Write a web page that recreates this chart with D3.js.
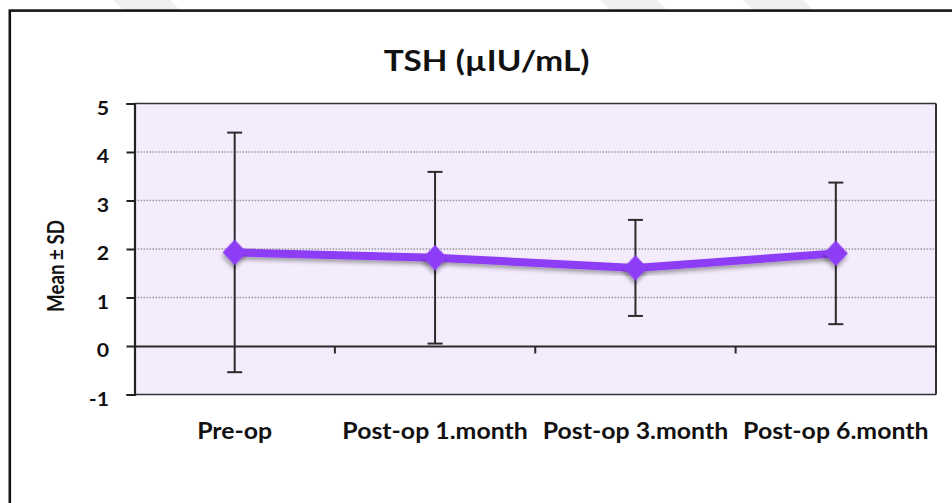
<!DOCTYPE html>
<html>
<head>
<meta charset="utf-8">
<script src="https://cdn.jsdelivr.net/npm/d3@7"></script>
<style>
  html, body { margin: 0; padding: 0; background: #fff; }
  svg { display: block; }
  text { font-family: Lato, "Open Sans", sans-serif; font-weight: bold; fill: #111; }
</style>
</head>
<body>
<svg id="chart" width="952" height="503"></svg>
<script>
// TSH follow-up: mean ± SD at each visit
const categories = ["Pre-op", "Post-op 1.month", "Post-op 3.month", "Post-op 6.month"];
const means = [1.93, 1.82, 1.61, 1.91];
const sds = [2.47, 1.77, 0.99, 1.46];
const yTicks = [-1, 0, 1, 2, 3, 4, 5];
const gridValues = [1, 2, 3, 4];
const title = "TSH (µIU/mL)";
const yTitle = "Mean ± SD";

const W = 952, H = 503;
const plot = { left: 134.5, right: 936, top: 103.5, bottom: 394.5 };

const svg = d3.select("#chart");

const defs = svg.append("defs");
const shadow = defs.append("filter").attr("id", "markerShadow")
  .attr("x", "-50%").attr("y", "-50%").attr("width", "200%").attr("height", "200%");
shadow.append("feDropShadow")
  .attr("dx", 2).attr("dy", 3).attr("stdDeviation", 2.2)
  .attr("flood-color", "#000").attr("flood-opacity", 0.35);

// faint diagonal bands along the top edge
const bands = [[113, 170], [600, 657], [743, 803]];
svg.append("g").selectAll("path").data(bands).join("path")
  .attr("d", d => `M${d[0]},0 L${d[1]},0 L${d[1] + 10},10 L${d[0] + 10},10 Z`)
  .attr("fill", "#f0f0f0");

// outer frame
svg.append("rect")
  .attr("x", 9.8).attr("y", 10.6).attr("width", W + 20).attr("height", H + 20)
  .attr("fill", "#fff").attr("stroke", "#151515").attr("stroke-width", 2.6);

const x = d3.scaleBand().domain(categories).range([plot.left, plot.right]);
const y = d3.scaleLinear().domain([-1, 5]).range([plot.bottom, plot.top]);

// plot background
svg.append("rect")
  .attr("x", plot.left).attr("y", y(5))
  .attr("width", plot.right - plot.left).attr("height", y(-1) - y(5))
  .attr("fill", "#F4ECFD");

// dotted gridlines
svg.append("g").selectAll("line").data(gridValues).join("line")
  .attr("x1", plot.left).attr("x2", plot.right)
  .attr("y1", d => y(d)).attr("y2", d => y(d))
  .attr("stroke", "#9c9c9c").attr("stroke-width", 1.5)
  .attr("stroke-dasharray", "1.6,1.4");

// plot frame: top, right, bottom
svg.append("line").attr("x1", plot.left).attr("x2", plot.right)
  .attr("y1", y(5)).attr("y2", y(5))
  .attr("stroke", "#333").attr("stroke-width", 1.6);
svg.append("line").attr("x1", plot.left).attr("x2", plot.right)
  .attr("y1", y(-1)).attr("y2", y(-1))
  .attr("stroke", "#333").attr("stroke-width", 1.6);
svg.append("line").attr("x1", plot.right).attr("x2", plot.right)
  .attr("y1", y(5)).attr("y2", y(-1))
  .attr("stroke", "#333").attr("stroke-width", 2);

// y axis
const yAxis = svg.append("g")
  .attr("transform", `translate(${plot.left},0)`)
  .call(d3.axisLeft(y).tickValues(yTicks).tickSize(8).tickPadding(0).tickFormat(d => String(d)));
yAxis.select(".domain").attr("stroke", "#222").attr("stroke-width", 2.2);
yAxis.selectAll(".tick line").attr("stroke", "#222").attr("stroke-width", 2);
yAxis.selectAll(".tick text")
  .attr("x", 0).attr("dy", null).attr("y", 0)
  .style("font-size", "19px").style("font-family", "Lato, sans-serif")
  .style("font-weight", "bold").attr("fill", "#111")
  .attr("text-anchor", "end")
  .attr("transform", "translate(-25.5,10.8) scale(1.12,1)");

// zero baseline with category-boundary ticks
const zeroAxis = svg.append("g")
  .attr("transform", `translate(0,${y(0)})`)
  .call(d3.axisBottom(x).tickSize(0).tickFormat(""));
zeroAxis.select(".domain").attr("stroke", "#2a2a2a").attr("stroke-width", 2);
zeroAxis.selectAll(".tick").remove();
const boundaries = categories.slice(1).map(c => x(c)).concat([plot.right]);
zeroAxis.selectAll("line.boundary").data(boundaries).join("line")
  .attr("class", "boundary")
  .attr("x1", d => d).attr("x2", d => d)
  .attr("y1", 0).attr("y2", 7.5)
  .attr("stroke", "#2a2a2a").attr("stroke-width", 2);

// category labels
const cx = c => x(c) + x.bandwidth() / 2;
svg.append("g").selectAll("text").data(categories).join("text")
  .attr("text-anchor", "middle")
  .style("font-size", "22px")
  .attr("transform", d => `translate(${cx(d)},438.5) scale(1.13,1)`)
  .text(d => d);

// error bars (behind the line)
const capHalf = 7.5;
const eb = svg.append("g").attr("stroke", "#2b2b2b").attr("stroke-width", 2);
categories.forEach((c, i) => {
  const hi = y(means[i] + sds[i]), lo = y(means[i] - sds[i]);
  eb.append("line").attr("x1", cx(c)).attr("x2", cx(c)).attr("y1", hi).attr("y2", lo);
  eb.append("line").attr("x1", cx(c) - capHalf).attr("x2", cx(c) + capHalf).attr("y1", hi).attr("y2", hi);
  eb.append("line").attr("x1", cx(c) - capHalf).attr("x2", cx(c) + capHalf).attr("y1", lo).attr("y2", lo);
});

// mean line + diamond markers
const purple = "#8D3DF5";
const pts = categories.map((c, i) => [cx(c), y(means[i])]);
svg.append("path")
  .datum(pts)
  .attr("d", d3.line())
  .attr("fill", "none").attr("stroke", purple).attr("stroke-width", 8)
  .attr("stroke-linejoin", "round")
  .attr("filter", "url(#markerShadow)");
svg.append("g").selectAll("path").data(pts).join("path")
  .attr("d", d3.symbol().type(d3.symbolSquare).size(290))
  .attr("transform", d => `translate(${d[0]},${d[1]}) scale(1,1.06) rotate(45)`)
  .attr("fill", purple)
  .attr("filter", "url(#markerShadow)");

// titles
svg.append("text")
  .attr("text-anchor", "middle")
  .style("font-size", "28px")
  .attr("transform", "translate(486.5,70.5) scale(1.19,1)")
  .text(title);

svg.append("text")
  .attr("text-anchor", "middle")
  .style("font-size", "21px")
  .attr("textLength", 92).attr("lengthAdjust", "spacingAndGlyphs")
  .attr("transform", "translate(63.5,266) rotate(-90) scale(1,1.1)")
  .text(yTitle);
</script>
</body>
</html>
